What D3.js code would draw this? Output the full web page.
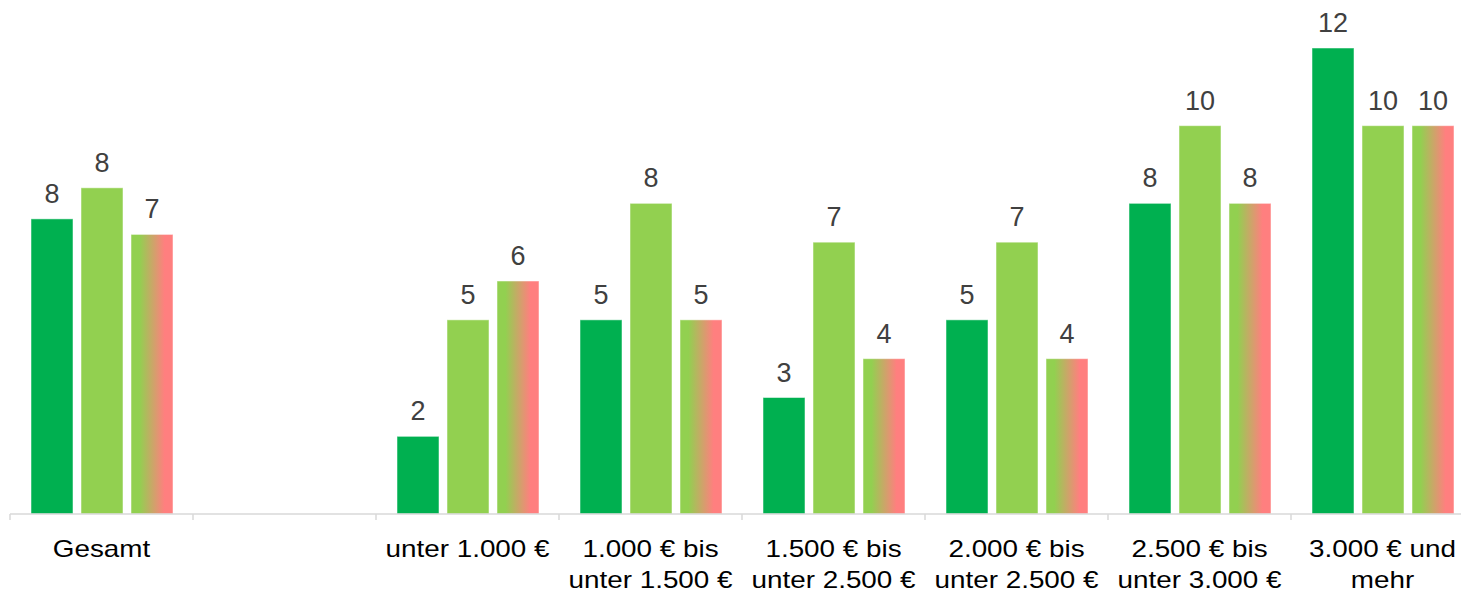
<!DOCTYPE html>
<html>
<head>
<meta charset="utf-8">
<style>
  body { margin: 0; background: #fff; }
  svg { display: block; font-family: "Liberation Sans", Arial, sans-serif; }
  .value-label { font-size: 27px; fill: #404040; }
  .cat-label { font-size: 24px; fill: #000; }
</style>
</head>
<body>
<div id="chart"></div>
<script src="https://d3js.org/d3.v7.min.js"></script>
<script>
  // Categories (second slot is an empty gap in the original)
  const categories = [
    'Gesamt',
    '',
    'unter 1.000 €',
    '1.000 € bis\nunter 1.500 €',
    '1.500 € bis\nunter 2.500 €',
    '2.000 € bis\nunter 2.500 €',
    '2.500 € bis\nunter 3.000 €',
    '3.000 € und\nmehr'
  ];

  // Series values (null = no bar)
  const series1 = [7.6, null, 2.0, 5.0, 3.0, 5.0, 8.0, 12.0];
  const series2 = [8.4, null, 5.0, 8.0, 7.0, 7.0, 10.0, 10.0];
  const series3 = [7.2, null, 6.0, 5.0, 4.0, 4.0, 8.0, 10.0];

  const width = 1461;
  const height = 595;
  const baseline = 514;

  const svg = d3.select('#chart')
    .append('svg')
    .attr('width', width)
    .attr('height', height);

  // gradient for the third series
  const grad = svg.append('defs').append('linearGradient')
    .attr('id', 'grad3')
    .attr('x1', '0%').attr('x2', '100%')
    .attr('y1', '0%').attr('y2', '0%');
  grad.append('stop').attr('offset', '0%').attr('stop-color', '#92D050');
  grad.append('stop').attr('offset', '20%').attr('stop-color', '#92D050');
  grad.append('stop').attr('offset', '80%').attr('stop-color', '#FF7F7F');
  grad.append('stop').attr('offset', '100%').attr('stop-color', '#FF7F7F');

  const seriesColors = ['#00B050', '#92D050', 'url(#grad3)'];
  const allSeries = [series1, series2, series3];

  const x0 = d3.scaleBand()
    .domain(d3.range(categories.length))
    .range([10, 1474]);

  const x1 = d3.scaleBand()
    .domain([0, 1, 2])
    .range([21, x0.bandwidth() - 20])
    .paddingInner(0.16);

  const y = d3.scaleLinear()
    .domain([0, 12])
    .range([baseline, 48]);

  // bars
  const groups = svg.selectAll('g.cat')
    .data(d3.range(categories.length))
    .join('g')
    .attr('class', 'cat')
    .attr('transform', i => `translate(${x0(i)},0)`);

  groups.selectAll('rect')
    .data(i => allSeries.map((s, k) => ({ k, v: s[i] })).filter(d => d.v != null))
    .join('rect')
    .attr('x', d => x1(d.k))
    .attr('y', d => y(d.v))
    .attr('width', x1.bandwidth())
    .attr('height', d => baseline - y(d.v))
    .attr('fill', d => seriesColors[d.k])
    .attr('stroke', 'rgba(255,255,255,0.5)')
    .attr('stroke-width', 1);

  groups.selectAll('text.value-label')
    .data(i => allSeries.map((s, k) => ({ k, v: s[i] })).filter(d => d.v != null))
    .join('text')
    .attr('class', 'value-label')
    .attr('x', d => x1(d.k) + x1.bandwidth() / 2)
    .attr('y', d => y(d.v) - 16)
    .attr('text-anchor', 'middle')
    .text(d => Math.round(d.v));

  // axis line with ticks at band boundaries
  const axis = svg.append('g')
    .attr('transform', `translate(0,${baseline})`);

  axis.append('line')
    .attr('x1', x0.range()[0])
    .attr('x2', x0.range()[1])
    .attr('stroke', '#D9D9D9')
    .attr('stroke-width', 1.5);

  axis.selectAll('line.tick')
    .data(d3.range(categories.length + 1))
    .join('line')
    .attr('class', 'tick')
    .attr('x1', i => x0.range()[0] + i * x0.step())
    .attr('x2', i => x0.range()[0] + i * x0.step())
    .attr('y1', 0)
    .attr('y2', 6)
    .attr('stroke', '#D9D9D9')
    .attr('stroke-width', 1.5);

  // category labels (the original text is a little wider than Arial)
  const labels = axis.selectAll('text.cat-label')
    .data(categories)
    .join('text')
    .attr('class', 'cat-label')
    .attr('text-anchor', 'middle')
    .attr('transform', (d, i) => `translate(${x0(i) + x0.bandwidth() / 2},43) scale(1.16,1)`);

  labels.selectAll('tspan')
    .data(d => d.split('\n'))
    .join('tspan')
    .attr('x', 0)
    .attr('dy', (d, j) => j === 0 ? 0 : 31)
    .text(d => d);
</script>
</body>
</html>
